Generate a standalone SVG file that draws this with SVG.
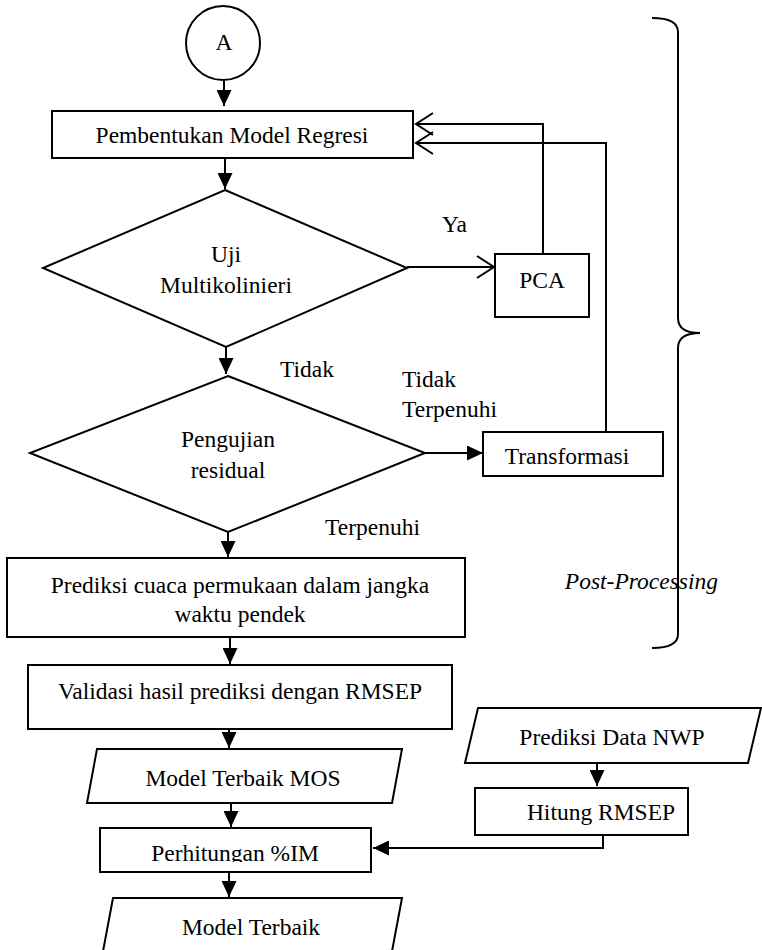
<svg xmlns="http://www.w3.org/2000/svg" width="762" height="950" viewBox="0 0 762 950" font-family="Liberation Serif, Times New Roman, DejaVu Serif, serif">
<style>
  .s{fill:#fff;stroke:#000;stroke-width:2}
  .c{fill:none;stroke:#000;stroke-width:2}
  text{font-family:'Liberation Serif','Times New Roman','DejaVu Serif',serif;font-size:23.5px;fill:#000}
  .m{text-anchor:middle}
  .it{font-style:italic}
</style>
<defs>
  <marker id="af" viewBox="0 0 16 15" refX="16" refY="7.5" markerWidth="16" markerHeight="15" markerUnits="userSpaceOnUse" orient="auto">
    <path d="M0,0 L16,7.5 L0,15 z" fill="#000"/>
  </marker>
  <marker id="ao" viewBox="-1 -1 20 24" refX="17" refY="11" markerWidth="20" markerHeight="24" markerUnits="userSpaceOnUse" orient="auto">
    <path d="M0,0 L17,11 L0,22" fill="none" stroke="#000" stroke-width="2"/>
  </marker>
  <clipPath id="clipIM"><rect x="100" y="828" width="271" height="34"/></clipPath>
</defs>
<rect width="762" height="950" fill="#fff"/>

<g id="connectors">
  <line class="c" x1="224" y1="80" x2="224" y2="106" marker-end="url(#af)"/>
  <line class="c" x1="225" y1="158" x2="225" y2="189" marker-end="url(#af)"/>
  <line class="c" x1="226" y1="347" x2="226" y2="374" marker-end="url(#af)"/>
  <line class="c" x1="228" y1="532" x2="228" y2="557" marker-end="url(#af)"/>
  <line class="c" x1="230" y1="637" x2="230" y2="664" marker-end="url(#af)"/>
  <line class="c" x1="229" y1="729" x2="229" y2="748" marker-end="url(#af)"/>
  <line class="c" x1="231" y1="803" x2="231" y2="827" marker-end="url(#af)"/>
  <line class="c" x1="229" y1="872" x2="229" y2="897" marker-end="url(#af)"/>
  <line class="c" x1="407" y1="267" x2="494" y2="267" marker-end="url(#ao)"/>
  <polyline class="c" points="543,254 543,124 416,124" marker-end="url(#ao)"/>
  <polyline class="c" points="606,432 606,143 416,143" marker-end="url(#ao)"/>
  <line class="c" x1="425" y1="453" x2="483" y2="453" marker-end="url(#af)"/>
  <line class="c" x1="597" y1="763" x2="597" y2="786" marker-end="url(#af)"/>
  <polyline class="c" points="603,836 603,848 373,848" marker-end="url(#af)"/>
</g>

<g id="brace">
  <path class="c" d="M652,18 Q678,18 678,32 L678,318 Q678,333 700,333 Q678,333 678,348 L678,634 Q678,648 652,648"/>
  <text class="it" x="718" y="589" text-anchor="end">Post-Processing</text>
</g>

<g id="nodeA">
  <circle class="s" cx="223" cy="43" r="37"/>
  <text class="m" x="224" y="50">A</text>
</g>

<g id="nodeModel">
  <rect class="s" x="52" y="111" width="361" height="47"/>
  <text class="m" x="232" y="143">Pembentukan Model Regresi</text>
</g>

<g id="nodeUji">
  <polygon class="s" points="225,190 407,268 226,347 43,268"/>
  <text class="m" x="226" y="262">Uji</text>
  <text class="m" x="226" y="293">Multikolinieri</text>
</g>

<g id="nodePCA">
  <rect class="s" x="495" y="254" width="94" height="63"/>
  <text class="m" x="542" y="288">PCA</text>
</g>

<g id="nodeResidual">
  <polygon class="s" points="228,376 425,453 228,532 30,453"/>
  <text class="m" x="228" y="447">Pengujian</text>
  <text class="m" x="228" y="478">residual</text>
</g>

<g id="nodeTransformasi">
  <rect class="s" x="483" y="432" width="180" height="44"/>
  <text class="m" x="567" y="464">Transformasi</text>
</g>

<g id="nodePrediksi">
  <rect class="s" x="7" y="558" width="458" height="79"/>
  <text class="m" x="240" y="593">Prediksi cuaca permukaan dalam jangka</text>
  <text class="m" x="240" y="622">waktu pendek</text>
</g>

<g id="nodeValidasi">
  <rect class="s" x="28" y="665" width="424" height="64"/>
  <text class="m" x="240" y="699">Validasi hasil prediksi dengan RMSEP</text>
</g>

<g id="nodeMOS">
  <polygon class="s" points="97,749 402,749 392,803 87,803"/>
  <text class="m" x="243" y="786">Model Terbaik MOS</text>
</g>

<g id="nodeIM">
  <rect class="s" x="100" y="828" width="271" height="44"/>
  <text class="m" x="235" y="861" clip-path="url(#clipIM)">Perhitungan %IM</text>
</g>

<g id="nodeTerbaik">
  <polygon class="s" points="113,898 402,898 390,962 101,962"/>
  <text class="m" x="251" y="935">Model Terbaik</text>
</g>

<g id="nodeNWP">
  <polygon class="s" points="478,708 761,708 748,763 465,763"/>
  <text class="m" x="612" y="745">Prediksi Data NWP</text>
</g>

<g id="nodeHitung">
  <rect class="s" x="475" y="788" width="213" height="47"/>
  <text class="m" x="601" y="820">Hitung RMSEP</text>
</g>

<g id="labels">
  <text x="442" y="232">Ya</text>
  <text x="280" y="377">Tidak</text>
  <text x="402" y="387">Tidak</text>
  <text x="402" y="417">Terpenuhi</text>
  <text x="325" y="535">Terpenuhi</text>
</g>
</svg>
